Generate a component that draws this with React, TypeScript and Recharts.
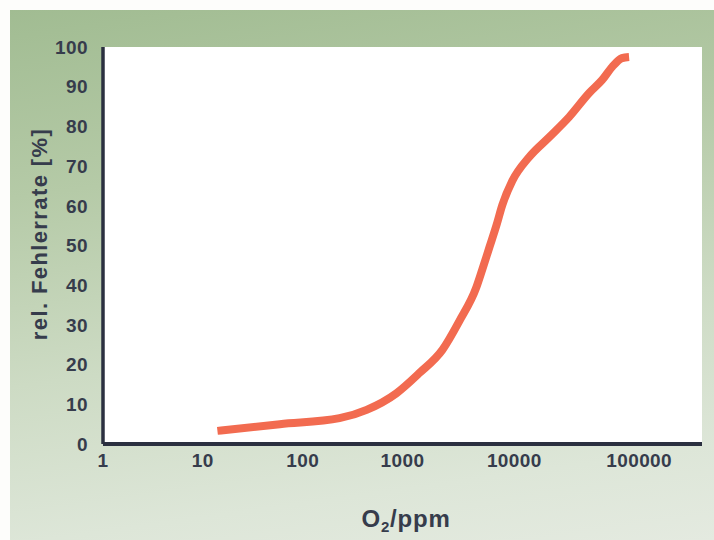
import { LineChart, Line, XAxis, YAxis, CartesianGrid } from "recharts"

// O2 concentration (ppm) and relative error rate (%)
const o2Ppm = [14, 59, 234, 437, 871, 1480, 2510, 3720, 5500, 6310, 7410, 8710, 10000, 12600, 18600, 29500, 46800, 74100, 100000, 126000, 158000, 186000]
const errorRate = [3.3, 5.0, 6.5, 8.6, 12.8, 17.9, 23.7, 31.0, 39.5, 44.0, 49.5, 55.0, 60.2, 66.3, 72.3, 77.3, 82.4, 88.4, 91.7, 95.0, 97.2, 97.5]

const xTicks = [1, 10, 100, 1000, 10000, 100000]
const yTicks = [0, 10, 20, 30, 40, 50, 60, 70, 80, 90, 100]

const chartData = o2Ppm.map((ppm, i) => ({ ppm, rate: errorRate[i] }))

const textColor = "#363c4c"
const frameColor = "#2b3040"
const font = "'Liberation Sans', Arial, sans-serif"

// the printed figure sets its last two labels a little to the right of their decades
const labelNudge: Record<number, number> = { 10000: 12, 100000: 37 }

function XTick(props: any) {
  const { x, y, payload } = props
  const dx = labelNudge[payload.value] || 0
  return (
    <text
      x={x + dx}
      y={y}
      dy="0.71em"
      textAnchor="middle"
      fill={textColor}
      fontSize={19}
      fontWeight={700}
      letterSpacing={0.4}
      fontFamily={font}
    >
      {payload.value}
    </text>
  )
}

export default function App() {
  return (
    <div
      style={{
        position: "absolute",
        left: 0,
        top: 0,
        width: 714,
        height: 540,
        background: "#fdfdfb",
      }}
    >
      <div
        style={{
          position: "absolute",
          left: 10,
          top: 10,
          width: 704,
          height: 530,
          background: "linear-gradient(172deg, #a1bc92 0%, #b5caa7 30%, #cddbc4 60%, #dde6d8 85%, #e4eae0 100%)",
        }}
      />
      <div style={{ position: "absolute", left: 0, top: 0 }}>
        <LineChart width={714} height={540} data={chartData} margin={{ top: 47, right: 12, left: 0, bottom: 0 }}>
          <CartesianGrid horizontal={false} vertical={false} fill="#ffffff" />
          <XAxis
            dataKey="ppm"
            type="number"
            scale="log"
            domain={[1, 1000000]}
            ticks={xTicks}
            allowDataOverflow
            height={96}
            tickSize={0}
            tickMargin={10}
            tick={<XTick />}
            axisLine={{ stroke: frameColor, strokeWidth: 4 }}
          />
          <XAxis
            xAxisId="top"
            orientation="top"
            dataKey="ppm"
            type="number"
            scale="log"
            domain={[1, 1000000]}
            allowDataOverflow
            height={0}
            tick={false}
            tickLine={false}
            axisLine={{ stroke: "#4a5060", strokeWidth: 1.5 }}
          />
          <YAxis
            type="number"
            domain={[0, 100]}
            ticks={yTicks}
            width={103}
            tickSize={0}
            tickMargin={15}
            axisLine={{ stroke: frameColor, strokeWidth: 3.5 }}
            tick={{ fill: textColor, fontSize: 19, fontWeight: 700, fontFamily: font, letterSpacing: 0.4 }}
          />
          <YAxis
            yAxisId="right"
            orientation="right"
            type="number"
            domain={[0, 100]}
            width={0}
            tick={false}
            tickLine={false}
            axisLine={{ stroke: "#3a3f4e", strokeWidth: 2 }}
          />
          <Line
            type="monotone"
            dataKey="rate"
            stroke="#f26b50"
            strokeWidth={8}
            strokeLinecap="butt"
            dot={false}
            activeDot={false}
            isAnimationActive={false}
          />
          <text
            transform="translate(47 234) rotate(-90)"
            textAnchor="middle"
            fill={textColor}
            fontSize={22}
            fontWeight={700}
            letterSpacing={1.4}
            fontFamily={font}
          >
            rel. Fehlerrate [%]
          </text>
          <text
            x={406}
            y={527}
            textAnchor="middle"
            fill={textColor}
            fontSize={24}
            fontWeight={700}
            letterSpacing={0.8}
            fontFamily={font}
          >
            O<tspan fontSize={15} dy={5}>2</tspan>
            <tspan dy={-5}>/ppm</tspan>
          </text>
        </LineChart>
      </div>
    </div>
  )
}
